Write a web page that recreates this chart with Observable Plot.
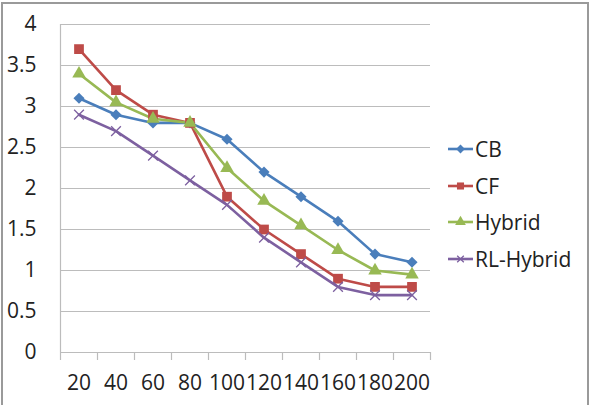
<!DOCTYPE html>
<html><head>
<meta charset="utf-8">
<script src="https://cdn.jsdelivr.net/npm/d3@7"></script>
<script src="https://cdn.jsdelivr.net/npm/@observablehq/plot@0.6"></script>
<style>
body{margin:0;background:#fff;font-family:"Open Sans",sans-serif;}
#wrap{position:relative;width:593px;height:405px;overflow:hidden;background:#fff;}
#frame{position:absolute;left:1px;top:2px;width:584px;height:420px;border:2px solid #9a9a9a;}
#chart{position:absolute;left:0;top:0;}
#legend{position:absolute;left:447px;top:0;}
.item{position:absolute;left:0;height:24px;display:flex;align-items:center;white-space:nowrap;font-size:21px;color:#222;}
.item span{margin-left:1px;}
</style>
</head><body>
<div id="wrap"><div id="frame"></div><div id="chart"></div><div id="legend"></div></div>
<script>
const categories = [20, 40, 60, 80, 100, 120, 140, 160, 180, 200];
const seriesNames = ["CB", "CF", "Hybrid", "RL-Hybrid"];
const cbValues     = [3.1, 2.9, 2.8, 2.8, 2.6, 2.2, 1.9, 1.6, 1.2, 1.1];
const cfValues     = [3.7, 3.2, 2.9, 2.8, 1.9, 1.5, 1.2, 0.9, 0.8, 0.8];
const hybridValues = [3.4, 3.05, 2.85, 2.8, 2.25, 1.85, 1.55, 1.25, 1.0, 0.95];
const rlValues     = [2.9, 2.7, 2.4, 2.1, 1.8, 1.4, 1.1, 0.8, 0.7, 0.7];
const yTicks = [0, 0.5, 1, 1.5, 2, 2.5, 3, 3.5, 4];

const colors = ["#4A7EBB", "#BE4B48", "#98B954", "#7D60A0"];
const symbols = ["diamond2", "square", "triangle", "times"];
const valuesBySeries = [cbValues, cfValues, hybridValues, rlValues];

const step = categories[1] - categories[0];
const xDomain = [categories[0] - step / 2, categories[categories.length - 1] + step / 2];
const edges = categories.map(c => c - step / 2).concat([xDomain[1]]);

const rows = seriesNames.map((s, k) => categories.map((c, i) => ({x: c, y: valuesBySeries[k][i], s})));

const marks = [
  Plot.ruleY(yTicks, {stroke: "#bcbcbc", strokeWidth: 1.2}),
  Plot.ruleX([xDomain[0]], {stroke: "#bcbcbc", strokeWidth: 1.2}),
  Plot.axisX({ticks: edges, tickSize: 8, tickFormat: () => "", label: null, stroke: "#bcbcbc", strokeOpacity: 1, strokeWidth: 1.2}),
  Plot.axisX({ticks: categories, tickSize: 0, tickPadding: 23, label: null, fontSize: 21, fill: "#222", tickFormat: d => String(d)}),
  Plot.axisY({ticks: yTicks, tickSize: 0, tickPadding: 24, label: null, fontSize: 21, fill: "#222", tickFormat: d => String(d)})
];
rows.forEach((r, k) => {
  marks.push(Plot.line(r, {x: "x", y: "y", stroke: colors[k], strokeWidth: 2.6}));
});
rows.forEach((r, k) => {
  const sym = symbols[k];
  if (sym === "times") {
    marks.push(Plot.dot(r, {x: "x", y: "y", symbol: sym, stroke: colors[k], strokeWidth: 1.3, r: 4.5}));
  } else {
    marks.push(Plot.dot(r, {x: "x", y: "y", symbol: sym, fill: colors[k], stroke: "none", r: sym === "square" ? 5.5 : 5}));
  }
});

const chart = Plot.plot({
  width: 593,
  height: 405,
  marginLeft: 60,
  marginRight: 163,
  marginTop: 24,
  marginBottom: 53,
  style: {fontFamily: '"Open Sans", sans-serif', background: "transparent", overflow: "visible"},
  x: {type: "linear", domain: xDomain, axis: null},
  y: {domain: [0, 4], axis: null},
  marks
});
document.getElementById("chart").appendChild(chart);

const legend = document.getElementById("legend");
const legendTops = [137, 174, 210, 247];
seriesNames.forEach((s, k) => {
  const div = document.createElement("div");
  div.className = "item";
  div.style.top = legendTops[k] + "px";
  const svg = d3.create("svg").attr("width", 27).attr("height", 24);
  svg.append("line").attr("x1", 1).attr("x2", 26).attr("y1", 12).attr("y2", 12).attr("stroke", colors[k]).attr("stroke-width", 2.6);
  const sym = {diamond2: d3.symbolDiamond2, square: d3.symbolSquare, triangle: d3.symbolTriangle, times: d3.symbolTimes}[symbols[k]];
  const path = svg.append("path").attr("transform", "translate(13.5,12)").attr("d", d3.symbol(sym, symbols[k] === "times" ? 30 : 50)());
  if (symbols[k] === "times") path.attr("fill", "none").attr("stroke", colors[k]).attr("stroke-width", 1.3);
  else path.attr("fill", colors[k]);
  div.appendChild(svg.node());
  const span = document.createElement("span");
  span.textContent = s;
  div.appendChild(span);
  legend.appendChild(div);
});
</script>
</body></html>
